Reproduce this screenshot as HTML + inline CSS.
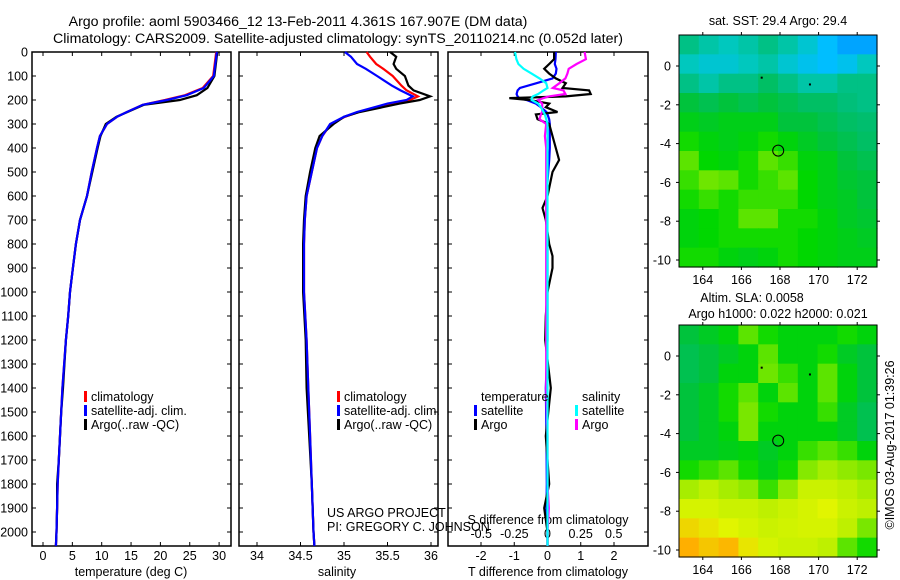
<!DOCTYPE html>
<html><head><meta charset="utf-8"><style>
html,body{margin:0;padding:0;background:#fff;}
svg{display:block;font-family:"Liberation Sans",sans-serif;}
text{font-size:12.5px;fill:#000;}
text.ttl{font-size:14.2px;}
</style></head><body>
<svg id="c" width="900" height="580" viewBox="0 0 900 580">
<text class="ttl" x="298" y="26" text-anchor="middle">Argo profile: aoml 5903466_12 13-Feb-2011 4.361S 167.907E (DM data)</text>
<text class="ttl" x="338" y="43" text-anchor="middle">Climatology: CARS2009. Satellite-adjusted climatology: synTS_20110214.nc (0.052d later)</text>
<g id="g"></g>
</svg>
<script>
// ---------- data ----------
const tDepth = [0,100,150,180,200,220,250,270,300,350,400,500,600,700,800,900,1000,1100,1200,1400,1500,1600,1700,1800,1900,2000,2058];
const tClim  = [29.5,29.0,27.2,24.2,20.8,17.0,14.3,12.6,10.9,9.7,9.2,8.3,7.5,6.3,5.6,5.1,4.6,4.3,3.9,3.3,3.1,2.9,2.7,2.5,2.4,2.3,2.2];
const tSat   = [29.6,29.1,27.4,24.5,21.1,17.0,14.3,12.6,10.9,9.7,9.2,8.3,7.5,6.3,5.6,5.1,4.6,4.3,3.9,3.3,3.1,2.9,2.7,2.5,2.4,2.3,2.2];
const tArgo  = [29.7,29.2,28.0,26.2,23.3,17.2,14.4,12.5,10.7,9.8,9.3,8.4,7.5,6.3,5.6,5.1,4.6,4.3,3.9,3.4,3.1,2.9,2.7,2.4,2.4,2.3,2.2];

const sDepth = [0,20,50,70,100,140,160,185,200,215,250,270,300,350,400,500,600,700,800,1000,1200,1400,1600,1800,2000,2058];
const sClim  = [35.26,35.30,35.37,35.45,35.56,35.66,35.72,35.85,35.76,35.55,35.17,35.01,34.85,34.75,34.69,34.63,34.57,34.55,34.54,34.54,34.57,34.59,34.61,34.63,34.65,34.66];
const sSat   = [35.01,35.08,35.15,35.25,35.38,35.55,35.65,35.79,35.72,35.50,35.15,35.00,34.84,34.75,34.69,34.63,34.57,34.55,34.54,34.54,34.57,34.59,34.61,34.63,34.65,34.66];
const sArgo  = [35.53,35.60,35.57,35.60,35.70,35.74,35.80,35.99,35.87,35.64,35.18,35.00,34.88,34.72,34.67,34.61,34.56,34.54,34.53,34.53,34.56,34.57,34.60,34.63,34.65,34.66];

const dDepth   = [0,30,50,70,90,110,130,150,160,175,185,192,200,215,230,250,260,280,300,350,400,450,500,600,650,700,800,850,900,1000,1100,1200,1400,1600,1800,1900,2000,2058];
const dTSat    = [0.25,0.24,0.22,0.27,0.25,0.15,-0.33,-0.83,-0.9,-0.93,-0.9,-0.85,-0.63,-0.35,-0.2,-0.03,0.0,0.05,0.07,0.07,0.07,0.05,0.02,-0.03,-0.02,-0.01,0.0,0.0,0.0,0.0,0.0,0.0,-0.05,-0.03,-0.02,-0.03,0.0,0.0];
const dTArgo   = [0.2,0.2,0.05,-0.1,0.05,0.25,0.55,0.45,1.25,1.3,0.55,-1.15,-0.55,0.05,-0.05,0.3,-0.35,-0.3,0.05,0.15,0.25,0.35,0.15,0.0,-0.15,-0.05,0.05,0.15,0.15,0.0,-0.05,-0.07,0.1,-0.05,0.05,-0.1,0.0,0.0];
const dSSat    = [-0.245,-0.235,-0.22,-0.18,-0.12,-0.06,-0.01,0.0,-0.03,-0.07,-0.11,-0.12,-0.12,-0.07,-0.05,-0.03,-0.02,-0.01,0.0,0.0,0.0,0.0,0.0,0.0,0.0,0.0,0.0,0.0,0.0,0.0,0.0,0.0,0.0,0.0,0.0,0.0,0.0,0.0];
const dSArgo   = [0.28,0.29,0.22,0.16,0.15,0.135,0.09,0.04,0.12,0.135,0.01,-0.03,-0.07,-0.04,-0.04,-0.04,-0.05,-0.06,-0.01,-0.02,-0.01,-0.01,-0.01,-0.01,-0.01,-0.01,-0.01,-0.01,-0.01,-0.01,-0.01,-0.01,-0.01,0.0,0.0,0.01,0.0,0.0];

const depthTicks = [0,100,200,300,400,500,600,700,800,900,1000,1100,1200,1300,1400,1500,1600,1700,1800,1900,2000];
const tTicks = [0,5,10,15,20,25,30];
const sTicks = [34,34.5,35,35.5,36];
const dTTicks = [-2,-1,0,1,2];
const dSTicks = [-0.5,-0.25,0,0.25,0.5];
const dSTickLabels = ["-0.5","-0.25","0","0.25","0.5"];
const lonTicks = [164,166,168,170,172];
const latTicks = [0,-2,-4,-6,-8,-10];

const sstGrid = [
[0.45,0.42,0.40,0.42,0.45,0.42,0.38,0.33,0.30,0.30],
[0.40,0.38,0.38,0.40,0.42,0.38,0.35,0.33,0.35,0.40],
[0.45,0.42,0.45,0.45,0.48,0.45,0.42,0.42,0.45,0.45],
[0.52,0.50,0.52,0.50,0.52,0.50,0.48,0.48,0.46,0.45],
[0.55,0.54,0.55,0.55,0.55,0.52,0.52,0.50,0.48,0.47],
[0.58,0.56,0.55,0.56,0.58,0.56,0.54,0.52,0.50,0.48],
[0.62,0.57,0.56,0.58,0.62,0.60,0.56,0.55,0.52,0.50],
[0.60,0.63,0.62,0.58,0.60,0.62,0.57,0.55,0.53,0.52],
[0.58,0.60,0.58,0.60,0.60,0.60,0.57,0.55,0.54,0.52],
[0.56,0.57,0.58,0.62,0.62,0.58,0.58,0.56,0.54,0.53],
[0.56,0.57,0.58,0.58,0.58,0.58,0.57,0.56,0.55,0.54],
[0.58,0.58,0.56,0.55,0.56,0.58,0.57,0.56,0.55,0.55]];
const slaGrid = [
[0.52,0.54,0.56,0.62,0.58,0.56,0.56,0.56,0.58,0.56],
[0.50,0.52,0.54,0.56,0.62,0.56,0.56,0.58,0.54,0.52],
[0.50,0.52,0.56,0.56,0.63,0.60,0.56,0.62,0.56,0.52],
[0.52,0.54,0.58,0.62,0.56,0.62,0.56,0.62,0.56,0.52],
[0.52,0.54,0.58,0.64,0.58,0.56,0.56,0.60,0.54,0.50],
[0.52,0.54,0.56,0.64,0.56,0.56,0.56,0.56,0.54,0.50],
[0.54,0.54,0.55,0.56,0.54,0.56,0.60,0.62,0.60,0.56],
[0.58,0.60,0.62,0.58,0.55,0.58,0.65,0.68,0.66,0.64],
[0.68,0.70,0.68,0.66,0.60,0.66,0.72,0.72,0.70,0.68],
[0.74,0.74,0.72,0.72,0.70,0.72,0.74,0.76,0.72,0.70],
[0.80,0.78,0.76,0.74,0.72,0.73,0.74,0.74,0.70,0.64],
[0.85,0.82,0.84,0.78,0.74,0.72,0.72,0.70,0.62,0.58]];
const floatLon = [167.907];
const floatLat = [-4.361];

// ---------- helpers ----------
const NS='http://www.w3.org/2000/svg';
const G=document.getElementById('g');
function mk(tag,attrs,parent){const e=document.createElementNS(NS,tag);for(const k in attrs)e.setAttribute(k,attrs[k]);(parent||G).appendChild(e);return e;}
const PT=52, PB=546;
const yD = d => PT + d*0.24;
const xT = t => 43 + t*5.87;
const xS = s => 257 + (s-34)*87;
const xDT = v => 547.5 + v*33.25;
const xDS = v => 547.5 + v*132.5;

function frame(x0,x1,name){
  const r=mk('rect',{x:x0,y:PT,width:x1-x0,height:PB-PT,fill:'none',stroke:'#000','stroke-width':1.5});
  
  
  depthTicks.forEach(d=>{
    mk('line',{x1:x0,x2:x0+4,y1:yD(d),y2:yD(d),stroke:'#000'});
    mk('line',{x1:x1-4,x2:x1,y1:yD(d),y2:yD(d),stroke:'#000'});
  });
}
function xticks(vals,fx,labels,ly,name){
  vals.forEach((v,i)=>{
    const x=fx(v);
    mk('line',{x1:x,x2:x,y1:PT,y2:PT+4,stroke:'#000'});
    mk('line',{x1:x,x2:x,y1:PB-4,y2:PB,stroke:'#000'});
    const t=mk('text',{x:x,y:ly,'text-anchor':'middle'});
    t.textContent=labels?labels[i]:String(v);
    
    
  });
}
function line(xs,ds,fx,color,name){
  const p=xs.map((v,i)=>fx(v).toFixed(1)+','+yD(ds[i]).toFixed(1)).join(' ');
  const e=mk('polyline',{points:p,fill:'none',stroke:color,'stroke-width':2.2,'stroke-linejoin':'miter'});
  
  
}
function txt(x,y,s,name,anchor){
  const t=mk('text',{x:x,y:y,'text-anchor':anchor||'start'});
  t.textContent=s;
  
  
  return t;
}
function legBar(x,y,color,name){
  const r=mk('rect',{x:x,y:y-10,width:3,height:11,fill:color});
  
  
}

// ---------- panel 1 ----------
frame(32,231,'temperature-panel');
depthTicks.forEach(d=>txt(28,yD(d)+4.5,String(d),'depth-tick-label','end'));
xticks(tTicks,xT,null,560,'temperature-tick-label');
txt(131,576,'temperature (deg C)','temperature-axis-title','middle');
line(tClim,tDepth,xT,'#ff0000','temperature-climatology-line');
line(tArgo,tDepth,xT,'#000000','temperature-argo-line');
line(tSat,tDepth,xT,'#0000ff','temperature-satellite-line');
legBar(84,401,'#ff0000','legend-climatology-swatch');txt(91,401,'climatology','legend-climatology');
legBar(84,415,'#0000ff','legend-satellite-swatch');txt(91,415,'satellite-adj. clim.','legend-satellite');
legBar(84,429,'#000000','legend-argo-swatch');txt(91,429,'Argo(..raw -QC)','legend-argo');

// ---------- panel 2 ----------
frame(239,438,'salinity-panel');
xticks(sTicks,xS,null,560,'salinity-tick-label');
txt(337,576,'salinity','salinity-axis-title','middle');
line(sClim,sDepth,xS,'#ff0000','salinity-climatology-line');
line(sArgo,sDepth,xS,'#000000','salinity-argo-line');
line(sSat,sDepth,xS,'#0000ff','salinity-satellite-line');
legBar(337,401,'#ff0000','legend-climatology-swatch');txt(344,401,'climatology','legend-climatology');
legBar(337,415,'#0000ff','legend-satellite-swatch');txt(344,415,'satellite-adj. clim.','legend-satellite');
legBar(337,429,'#000000','legend-argo-swatch');txt(344,429,'Argo(..raw -QC)','legend-argo');

// ---------- panel 3 ----------
frame(448,648,'difference-panel');
xticks(dTTicks,xDT,null,560,'t-difference-tick-label');
txt(548,576,'T difference from climatology','t-difference-axis-title','middle');
dSTicks.forEach((v,i)=>txt(xDS(v),538,dSTickLabels[i],'s-difference-tick-label','middle'));
txt(548,524,'S difference from climatology','s-difference-axis-title','middle');
line(dTSat,dDepth,xDT,'#0000ff','t-diff-satellite-line');
line(dTArgo,dDepth,xDT,'#000000','t-diff-argo-line');
line(dSArgo,dDepth,xDS,'#ff00ff','s-diff-argo-line');
line(dSSat,dDepth,xDS,'#00ffff','s-diff-satellite-line');
txt(481,401,'temperature','legend-temperature-heading');
legBar(474,415,'#0000ff','legend-t-satellite-swatch');txt(481,415,'satellite','legend-t-satellite');
legBar(474,429,'#000000','legend-t-argo-swatch');txt(481,429,'Argo','legend-t-argo');
txt(582,401,'salinity','legend-salinity-heading');
legBar(575,415,'#00ffff','legend-s-satellite-swatch');txt(582,415,'satellite','legend-s-satellite');
legBar(575,429,'#ff00ff','legend-s-argo-swatch');txt(582,429,'Argo','legend-s-argo');

txt(327,517,'US ARGO PROJECT','credit-project');
txt(327,531,'PI: GREGORY C. JOHNSON','credit-pi');

// ---------- maps ----------
const stops=[[0.0,[0,0,190]],[0.25,[0,120,255]],[0.33,[0,190,255]],[0.40,[0,200,190]],[0.47,[0,190,110]],[0.52,[0,195,60]],[0.57,[0,215,0]],[0.63,[110,230,0]],[0.70,[190,240,0]],[0.76,[225,245,0]],[0.85,[255,175,0]],[1.0,[255,60,0]]];
function cmap(v){
  for(let i=1;i<stops.length;i++){ if(v<=stops[i][0]){const a=stops[i-1],b=stops[i];const f=(v-a[0])/(b[0]-a[0]);return 'rgb('+a[1].map((c,k)=>Math.round(c+(b[1][k]-c)*f)).join(',')+')';} }
  return 'rgb(255,60,0)';
}
function map(top,grid,name){
  const L=679,R=877,B=top+232;
  const xL = lon => 780 + (lon-168)*19.3;
  const yL = lat => (top+31) - lat*19.4;
  const rows=grid.length, cols=grid[0].length;
  const cw=(R-L)/cols, ch=(B-top)/rows;
  const g=mk('g',{});
  
  
  grid.forEach((row,r)=>row.forEach((v,c)=>{
    const cell=mk('rect',{x:(L+c*cw).toFixed(2),y:(top+r*ch).toFixed(2),width:(cw+0.6).toFixed(2),height:(ch+0.6).toFixed(2),fill:cmap(v)},g);
    
    
  }));
  mk('rect',{x:L,y:top,width:R-L,height:B-top,fill:'none',stroke:'#000','stroke-width':1});
  lonTicks.forEach(l=>{const x=xL(l);mk('line',{x1:x,x2:x,y1:top-3,y2:top,stroke:'#000'});mk('line',{x1:x,x2:x,y1:B,y2:B+3,stroke:'#000'});txt(x,B+17,String(l),'longitude-tick-label','middle');});
  latTicks.forEach(l=>{const y=yL(l);mk('line',{x1:L-3,x2:L,y1:y,y2:y,stroke:'#000'});mk('line',{x1:R,x2:R+3,y1:y,y2:y,stroke:'#000'});txt(L-8,y+4.5,String(l),'latitude-tick-label','end');});
  floatLon.forEach((lo,i)=>{const c=mk('circle',{cx:xL(lo),cy:yL(floatLat[i]),r:5.5,fill:'none',stroke:'#000','stroke-width':1});
    
    });
  mk('rect',{x:xL(167),y:yL(-0.55),width:2,height:2,fill:'#000'});
  mk('rect',{x:xL(169.5),y:yL(-0.9),width:2,height:2,fill:'#000'});
}
map(35,sstGrid,'sst-map');
map(325,slaGrid,'sla-map');
txt(778,25,'sat. SST: 29.4 Argo: 29.4','sst-map-title','middle');
txt(752,302,'Altim. SLA: 0.0058','sla-map-title','middle');
txt(778,318,'Argo h1000: 0.022 h2000: 0.021','sla-map-subtitle','middle');
const rt=txt(0,0,'©IMOS 03-Aug-2017 01:39:26','timestamp','middle');
rt.setAttribute('transform','translate(894,445) rotate(-90)');
</script>
</body></html>
